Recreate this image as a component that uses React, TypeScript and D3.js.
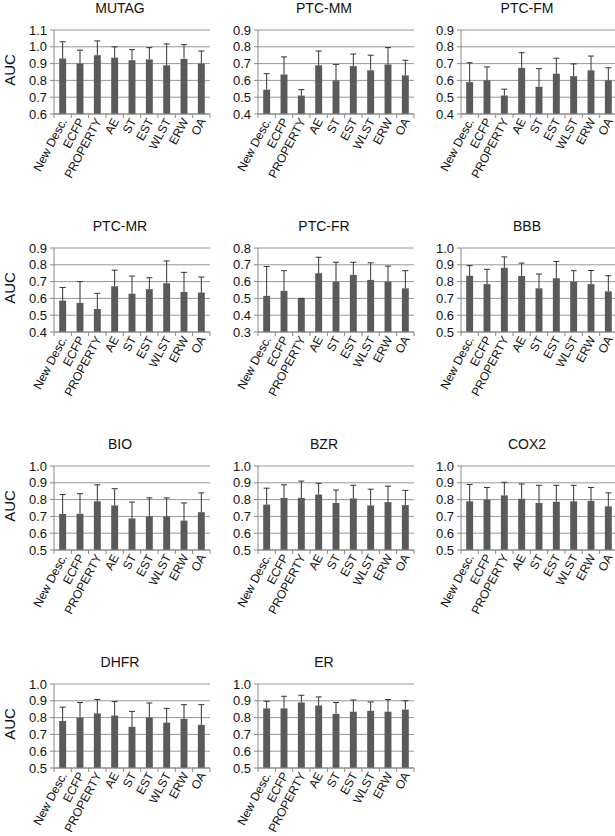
import React from "react";
import * as d3 from "d3";

const methods = ["New Desc.", "ECFP", "PROPERTY", "AE", "ST", "EST", "WLST", "ERW", "OA"];
const datasetNames = ["MUTAG", "PTC-MM", "PTC-FM", "PTC-MR", "PTC-FR", "BBB", "BIO", "BZR", "COX2", "DHFR", "ER"];

// mean AUC and top of the error bar (mean + sd), per dataset
const mutagAuc = [0.93, 0.9, 0.95, 0.935, 0.92, 0.925, 0.89, 0.928, 0.9];
const mutagTop = [1.03, 0.98, 1.035, 1.0, 0.983, 0.995, 1.017, 1.013, 0.975];
const ptcMmAuc = [0.545, 0.635, 0.51, 0.69, 0.6, 0.685, 0.66, 0.695, 0.63];
const ptcMmTop = [0.64, 0.74, 0.545, 0.775, 0.695, 0.757, 0.75, 0.795, 0.72];
const ptcFmAuc = [0.59, 0.6, 0.51, 0.675, 0.562, 0.64, 0.625, 0.66, 0.6];
const ptcFmTop = [0.705, 0.68, 0.548, 0.765, 0.67, 0.732, 0.698, 0.745, 0.675];
const ptcMrAuc = [0.587, 0.573, 0.537, 0.672, 0.628, 0.655, 0.69, 0.638, 0.635];
const ptcMrTop = [0.665, 0.7, 0.63, 0.768, 0.733, 0.723, 0.823, 0.755, 0.727];
const ptcFrAuc = [0.515, 0.545, 0.5, 0.65, 0.6, 0.64, 0.61, 0.6, 0.56];
const ptcFrTop = [0.69, 0.665, 0.5, 0.745, 0.715, 0.715, 0.712, 0.692, 0.665];
const bbbAuc = [0.835, 0.785, 0.882, 0.833, 0.76, 0.82, 0.8, 0.785, 0.742];
const bbbTop = [0.895, 0.873, 0.947, 0.91, 0.845, 0.92, 0.865, 0.866, 0.835];
const bioAuc = [0.715, 0.715, 0.79, 0.765, 0.688, 0.7, 0.7, 0.675, 0.725];
const bioTop = [0.83, 0.835, 0.888, 0.865, 0.785, 0.81, 0.81, 0.78, 0.84];
const bzrAuc = [0.77, 0.81, 0.81, 0.83, 0.78, 0.807, 0.765, 0.785, 0.767];
const bzrTop = [0.868, 0.888, 0.91, 0.897, 0.857, 0.885, 0.862, 0.88, 0.855];
const cox2Auc = [0.79, 0.8, 0.825, 0.805, 0.78, 0.787, 0.79, 0.792, 0.76];
const cox2Top = [0.89, 0.872, 0.903, 0.893, 0.885, 0.885, 0.885, 0.872, 0.84];
const dhfrAuc = [0.78, 0.8, 0.825, 0.812, 0.745, 0.8, 0.77, 0.792, 0.757];
const dhfrTop = [0.862, 0.89, 0.908, 0.895, 0.837, 0.887, 0.855, 0.877, 0.877];
const erAuc = [0.855, 0.855, 0.89, 0.872, 0.822, 0.835, 0.84, 0.835, 0.848];
const erTop = [0.897, 0.927, 0.933, 0.923, 0.89, 0.905, 0.893, 0.908, 0.9];

const yDomains = [
  [0.6, 1.1], [0.4, 0.9], [0.4, 0.9], [0.4, 0.9], [0.3, 0.8], [0.5, 1.0],
  [0.5, 1.0], [0.5, 1.0], [0.5, 1.0], [0.5, 1.0], [0.5, 1.0],
];

const aucs = [mutagAuc, ptcMmAuc, ptcFmAuc, ptcMrAuc, ptcFrAuc, bbbAuc, bioAuc, bzrAuc, cox2Auc, dhfrAuc, erAuc];
const tops = [mutagTop, ptcMmTop, ptcFmTop, ptcMrTop, ptcFrTop, bbbTop, bioTop, bzrTop, cox2Top, dhfrTop, erTop];

const colX = [54, 258, 461];
const rowY = [30, 248, 466, 684];
const plotW = 156;
const plotH = 84;

const barFill = "#5a5a5a";
const gridColor = "#989898";
const axisColor = "#888";
const fmt = d3.format(".1f");

function Panel({ idx }: { idx: number }) {
  const name = datasetNames[idx];
  const auc = aucs[idx];
  const top = tops[idx];
  const left = colX[idx % 3];
  const tp = rowY[Math.floor(idx / 3)];

  const x = d3.scaleBand().domain(methods).range([0, plotW]).paddingInner(0.6).paddingOuter(0.3);
  const y = d3.scaleLinear().domain(yDomains[idx]).range([plotH, 0]);
  const ticks = y.ticks(5);
  const step = x.step();

  return (
    <g transform={`translate(${left},${tp})`}>
      <text x={plotW / 2 - 12} y={-17} textAnchor="middle" fontSize={14} fill="#111">
        {name}
      </text>
      {idx % 3 === 0 && (
        <text
          transform={`translate(${10 - left},${plotH / 2 - 2}) rotate(-90)`}
          textAnchor="middle"
          dy="0.35em"
          fontSize={15}
          fill="#111"
        >
          AUC
        </text>
      )}
      {ticks.map((t) => (
        <g key={t}>
          <line x1={0} x2={plotW} y1={y(t)} y2={y(t)} stroke={gridColor} strokeWidth={1} />
          <line x1={-4} x2={0} y1={y(t)} y2={y(t)} stroke={axisColor} />
          <text x={-7} y={y(t)} dy="0.35em" textAnchor="end" fontSize={13} fill="#111">
            {fmt(t)}
          </text>
        </g>
      ))}
      {methods.map((m, i) => {
        const bx = x(m)!;
        const cx = bx + x.bandwidth() / 2;
        return (
          <g key={m}>
            <rect x={bx} y={y(auc[i])} width={x.bandwidth()} height={plotH - y(auc[i])} fill={barFill} />
            <line x1={cx} x2={cx} y1={y(auc[i])} y2={y(top[i])} stroke="#333" />
            <line x1={cx - 3} x2={cx + 3} y1={y(top[i])} y2={y(top[i])} stroke="#333" />
          </g>
        );
      })}
      <line x1={0} x2={0} y1={0} y2={plotH} stroke={axisColor} />
      <line x1={0} x2={plotW} y1={plotH} y2={plotH} stroke={axisColor} />
      {d3.range(methods.length + 1).map((k) => (
        <line key={k} x1={k * step} x2={k * step} y1={plotH} y2={plotH + 4} stroke={axisColor} />
      ))}
      {methods.map((m) => {
        const cx = x(m)! + x.bandwidth() / 2;
        return (
          <text
            key={m}
            transform={`translate(${cx + 1},${plotH + 5}) rotate(-62)`}
            textAnchor="end"
            dy="0.35em"
            fontSize={12}
            fill="#111"
          >
            {m}
          </text>
        );
      })}
    </g>
  );
}

export default function App() {
  return (
    <svg
      width={615}
      height={836}
      style={{ position: "absolute", left: 0, top: 0, background: "#fff" }}
      fontFamily="'Liberation Sans', Arial, sans-serif"
    >
      {datasetNames.map((n, i) => (
        <Panel key={n} idx={i} />
      ))}
    </svg>
  );
}
